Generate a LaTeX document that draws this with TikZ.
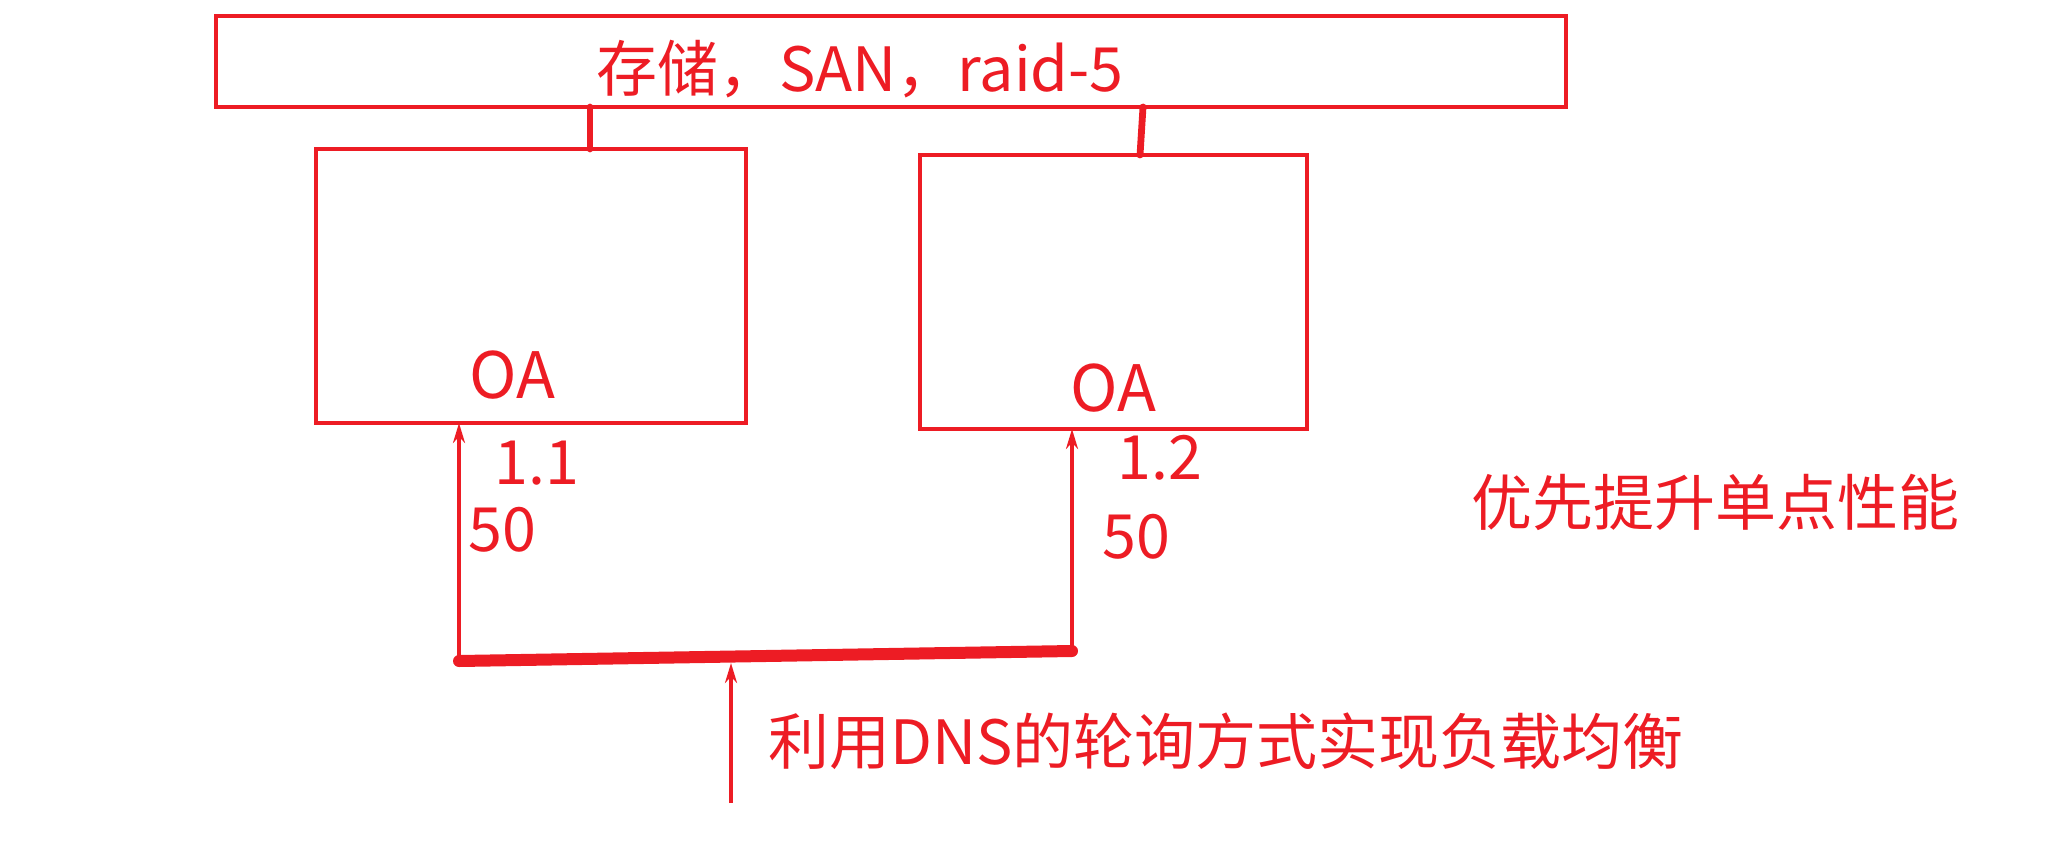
\documentclass[tikz,border=0pt]{standalone}
\usepackage{fontspec}
\setmainfont{Noto Sans CJK SC}
\usetikzlibrary{arrows.meta,calc}
\definecolor{inkred}{RGB}{237,28,36}
\begin{document}
\begin{tikzpicture}[x=0.5pt,y=-0.5pt,
  box/.style={draw=inkred,line width=1.8pt,inner sep=0pt,outer sep=0pt},
  lbl/.style={text=inkred,inner sep=0pt,font=\fontsize{30.5}{36}\selectfont},
  link/.style={draw=inkred,line width=3.4pt,line cap=round},
  bar/.style={draw=inkred,line width=6pt,line cap=round},
  arr/.style={draw=inkred,line width=1.7pt,-{Stealth[length=10pt,width=6pt]}}]
\useasboundingbox (0,0) rectangle (2055,846);
% boxes
\node[box,minimum width=675pt,minimum height=45.5pt] (top) at (891,61.5) {};
\node[box,minimum width=215pt,minimum height=137pt] (lbox) at (531,286) {};
\node[box,minimum width=193.5pt,minimum height=137pt] (rbox) at (1113.5,292) {};
% texts
\node[lbl] (ttext) at (860,69) {存储，SAN，raid-5};
\node[lbl,font=\fontsize{32}{36}\selectfont] (oa1) at (512,375) {OA};
\node[lbl,font=\fontsize{32}{36}\selectfont] (oa2) at (1113,388) {OA};
\node[lbl] (ip1) at (537,463) {1.1};
\node[lbl] (ip2) at (1160,458) {1.2};
\node[lbl] (w1) at (502,530) {50};
\node[lbl] (w2) at (1136,537) {50};
\node[lbl] (dns) at (1226,741) {利用DNS的轮询方式实现负载均衡};
\node[lbl] (perf) at (1715,502) {优先提升单点性能};
% top connectors
\coordinate (c1) at (590,0);
\coordinate (c2t) at (1143,0);
\coordinate (c2b) at (1140,0);
\draw[link] (top.south -| c1) -- (lbox.north -| c1);
\draw[link] (top.south -| c2t) -- (rbox.north -| c2b);
% bottom bar
\coordinate (bl) at (459,661);
\coordinate (br) at (1072,651);
\draw[bar] (bl) -- (br);
\coordinate (bls) at (459,666);
\coordinate (brs) at (1072,653);
\draw[arr] (bls) -- (lbox.south -| bls);
\draw[arr] (brs) -- (rbox.south -| brs);
\coordinate (src) at (731,803);
\coordinate (bmt) at (731,663);
\draw[arr] (src) -- (bmt);
\end{tikzpicture}
\end{document}
